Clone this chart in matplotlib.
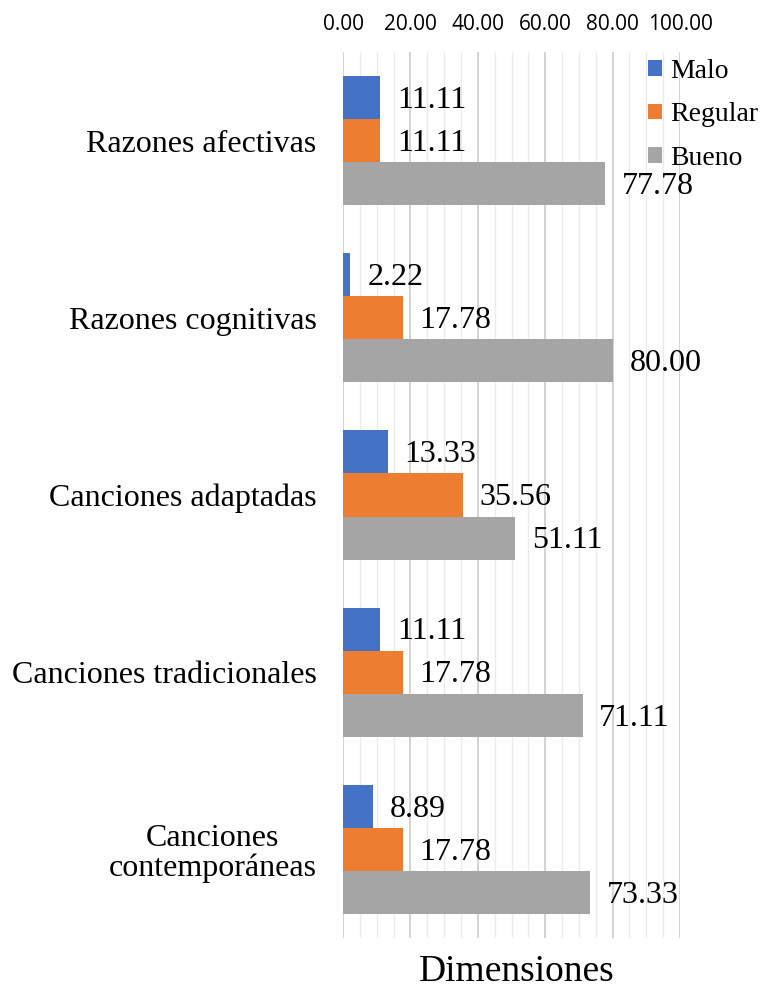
import matplotlib
matplotlib.use("Agg")
import matplotlib.pyplot as plt
from matplotlib.ticker import MultipleLocator
import numpy as np

categories = ["Razones afectivas", "Razones cognitivas", "Canciones adaptadas",
              "Canciones tradicionales", "Canciones\ncontemporáneas"]
malo = [11.11, 2.22, 13.33, 11.11, 8.89]
regular = [11.11, 17.78, 35.56, 17.78, 17.78]
bueno = [77.78, 80.00, 51.11, 71.11, 73.33]
series = [("Malo", malo, "#4472C4"), ("Regular", regular, "#ED7D31"), ("Bueno", bueno, "#A5A5A5")]

fig = plt.figure(figsize=(7.66, 9.9), dpi=100)
ax = fig.add_axes([0.4478, 0.0525, 0.44, 0.895])

y = np.arange(len(categories))
h = 0.243
for i, (name, vals, col) in enumerate(series):
    pos = y + (i - 1) * h
    ax.barh(pos, vals, height=h, color=col, label=name, zorder=3)
    for p, v in zip(pos, vals):
        ax.annotate(f"{v:.2f}", (v, p), xytext=(12, -2), textcoords="offset points",
                    va="center", ha="left", family="Liberation Serif", fontsize=23,
                    annotation_clip=False)

ax.set_xlim(0, 100)
ax.set_ylim(len(categories) - 0.5, -0.5)
ax.set_yticks(y)
ax.set_yticklabels(categories, family="Liberation Serif", fontsize=23, ha="right",
                   multialignment="center", linespacing=1.05)
ax.tick_params(axis="y", length=0, pad=19)
ax.xaxis.tick_top()
ax.xaxis.set_minor_locator(MultipleLocator(5))
ax.set_xticks(np.arange(0, 101, 20))
ax.set_xticklabels([f"{t:.2f}" for t in np.arange(0, 101, 20)], family="Open Sans", fontsize=15)
ax.tick_params(axis="x", which="both", length=0, pad=12)
ax.grid(axis="x", which="major", color="#D0D0D0", linewidth=1.3, zorder=0)
ax.grid(axis="x", which="minor", color="#EBEBEB", linewidth=1.0, zorder=0)
for s in ax.spines.values():
    s.set_visible(False)

fig.text(0.675, 0.018, "Dimensiones", ha="center", va="center",
         family="Liberation Serif", fontsize=27)

ax.legend(loc="upper left", bbox_to_anchor=(0.905, 0.992), frameon=False,
          borderpad=0, borderaxespad=0,
          prop={"family": "Liberation Serif", "size": 20},
          handlelength=0.5, handleheight=0.5, handletextpad=0.3, labelspacing=0.66)

fig.savefig("out.png", dpi=100)
